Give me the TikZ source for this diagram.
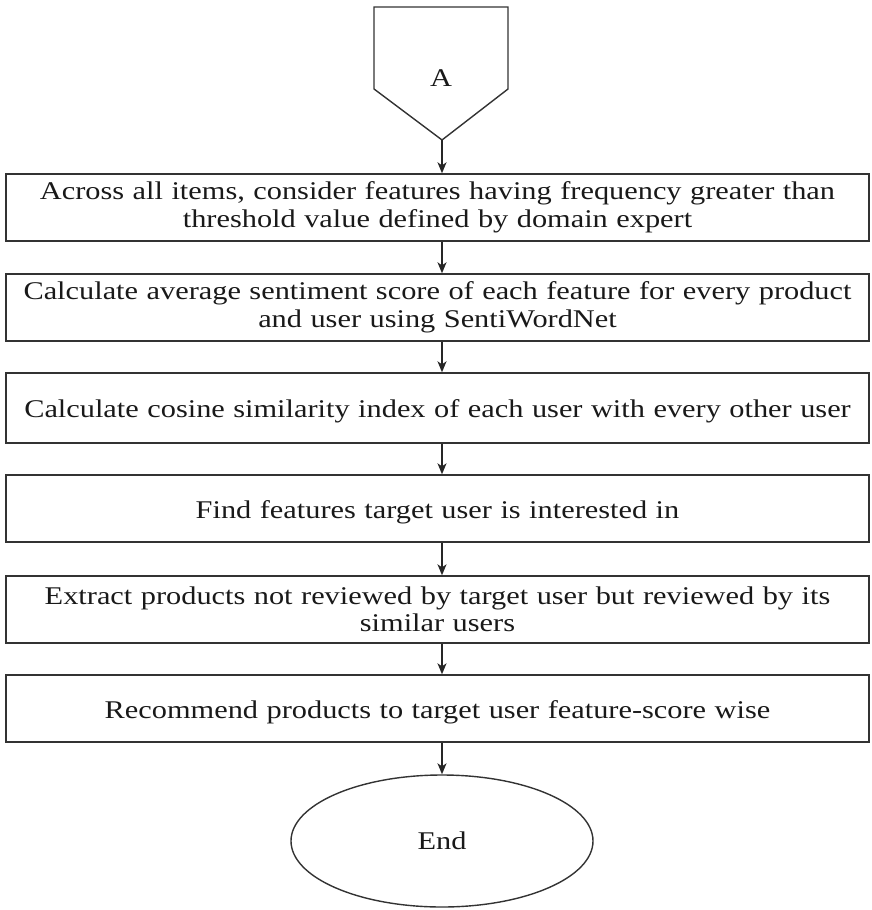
\documentclass[tikz,border=0pt]{standalone}
\usepackage{fontspec}
\setmainfont[FakeStretch=1.19]{Liberation Serif}
\usetikzlibrary{arrows.meta,shapes.geometric,calc}
\begin{document}
\begin{tikzpicture}[x=1pt,y=1pt,
  line/.style={draw=black!80,line width=1.4pt},
  txt/.style={font=\fontsize{25.5}{27.5}\selectfont, text=black!90},
  stepbox/.style={line, rectangle, minimum width=863pt, text width=860pt, align=center, inner sep=0pt, txt},
  onebox/.style={stepbox, text height=25pt, text depth=6pt},
  arr/.style={draw=black!85, line width=1.4pt, -{Stealth[length=11pt,width=9pt,inset=3pt]}},
]
\useasboundingbox (0,0) rectangle (871,-910);
% off-page connector
\path[line] (374,-7) -- (508,-7) -- (508,-89) -- (442,-140) -- (374,-89) -- cycle;
\coordinate (tip) at (442,-140);
\node[txt] (A) at (441,-78) {A};
% boxes
\node[stepbox, minimum height=67pt] (b1) at (437.5,-207.5) {Across all items, consider features having frequency greater than\\threshold value defined by domain expert};
\node[stepbox, minimum height=67pt] (b2) at (437.5,-307.5) {Calculate average sentiment score of each feature for every product\\and user using SentiWordNet};
\node[onebox, minimum height=70pt] (b3) at (437.5,-408) {Calculate cosine similarity index of each user with every other user};
\node[onebox, minimum height=67pt] (b4) at (437.5,-508.5) {Find features target user is interested in};
\node[stepbox, minimum height=67pt] (b5) at (437.5,-609.5) {Extract products not reviewed by target user but reviewed by its\\similar users};
\node[onebox, minimum height=67pt] (b6) at (437.5,-708.5) {Recommend products to target user feature-score wise};
\node[line, ellipse, minimum width=302pt, minimum height=132pt, inner sep=0pt, txt] (end) at (442,-841) {End};
% connectors
\draw[arr] (tip) -- (tip |- b1.north);
\draw[arr] (b1.south -| tip) -- (b2.north -| tip);
\draw[arr] (b2.south -| tip) -- (b3.north -| tip);
\draw[arr] (b3.south -| tip) -- (b4.north -| tip);
\draw[arr] (b4.south -| tip) -- (b5.north -| tip);
\draw[arr] (b5.south -| tip) -- (b6.north -| tip);
\draw[arr] (b6.south -| tip) -- (end.north);
\end{tikzpicture}
\end{document}
